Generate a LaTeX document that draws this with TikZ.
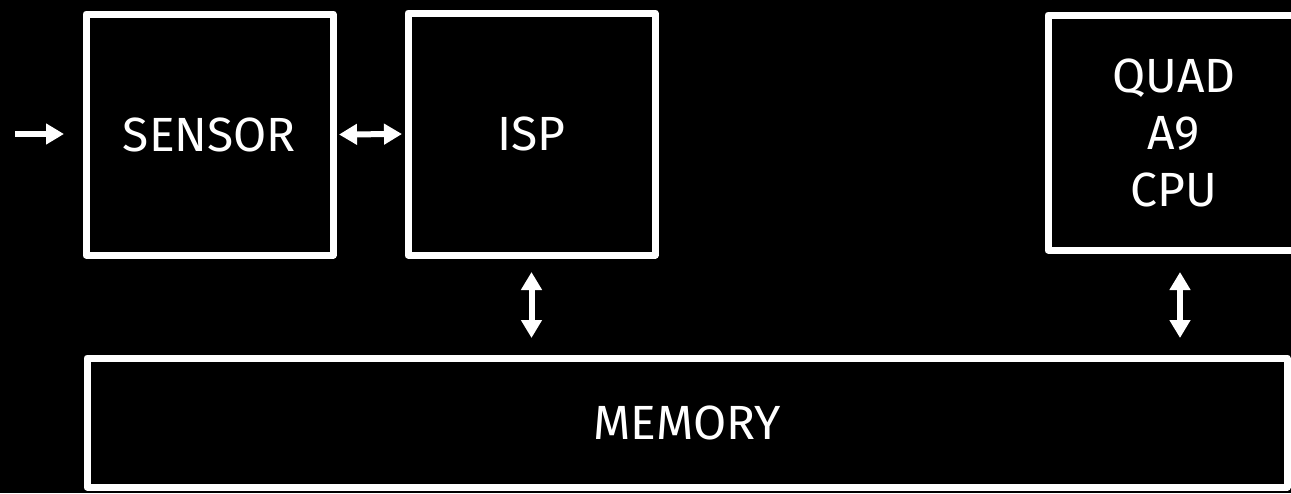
\documentclass[tikz,border=0pt]{standalone}
\usepackage{fontspec}
\setmainfont{Fira Sans}
\usetikzlibrary{arrows.meta}
\begin{document}
\begin{tikzpicture}[x=1pt,y=-1pt,
  box/.style={draw=white, line width=7pt, line join=round, fill=black, text=white,
    inner sep=0pt, outer sep=0pt, font=\fontsize{48}{57}\selectfont, align=center},
  conn/.style={draw=white, line width=6pt,
    -{Triangle[width=20pt,length=18pt]}},
  dconn/.style={draw=white, line width=6pt,
    {Triangle[width=20pt,length=18pt]}-{Triangle[width=20pt,length=18pt]}}]
\fill[black] (0,0) rectangle (1291,493);
\useasboundingbox (0,0) rectangle (1291,493);
\node[box, minimum width=247pt, minimum height=241pt] (sensor) at (209.5,134.5) {SENSOR};
\node[box, minimum width=247pt, minimum height=242pt] (isp) at (531.5,134) {ISP};
\node[box, minimum width=252pt, minimum height=235pt] (cpu) at (1174,132.5) {QUAD\\A9\\CPU};
\node[box, minimum width=1200pt, minimum height=129pt] (mem) at (687,422.5) {MEMORY};
\coordinate (in) at (15,134);
\draw[conn] (in) -- ([xshift=-22pt]sensor.west |- in);
\draw[dconn] ([xshift=6pt]sensor.east) -- ([xshift=-6pt]isp.west);
\draw[dconn] ([yshift=-17pt]isp.south) -- ([yshift=20pt]isp.south |- mem.north);
\coordinate (cpux) at (1180,0);
\draw[dconn] ([yshift=-22pt]cpux |- cpu.south) -- ([yshift=20pt]cpux |- mem.north);
\end{tikzpicture}
\end{document}
